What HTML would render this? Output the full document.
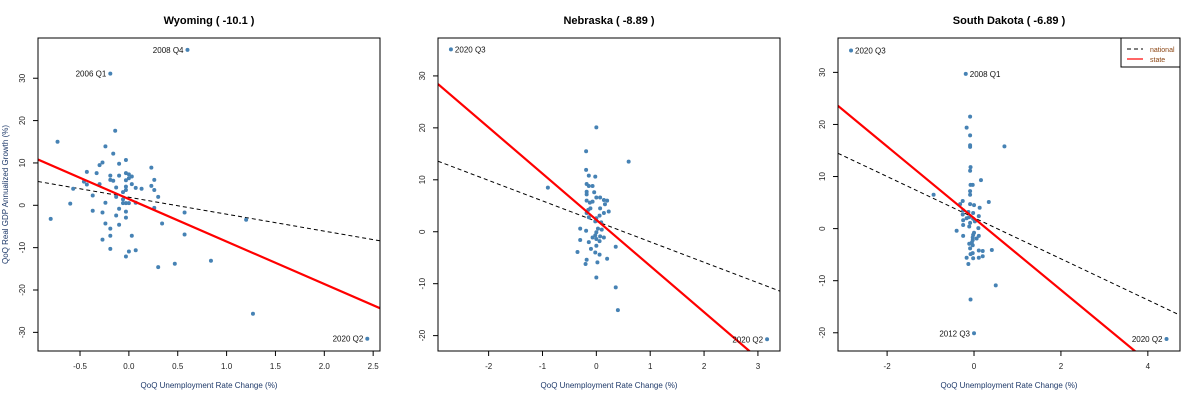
<!DOCTYPE html>
<html><head><meta charset="utf-8"><style>
body{margin:0;background:#fff;font-family:"Liberation Sans",Arial,sans-serif}
svg{display:block}
</style></head><body>
<svg id="chart" width="1200" height="400" xmlns="http://www.w3.org/2000/svg"></svg>
<script>
// Wyoming
const wyX=[0.60,-0.19,-0.73,-0.80,-0.60,-0.57,-0.46,-0.43,-0.43,-0.37,-0.37,-0.33,-0.30,-0.27,-0.30,-0.27,-0.27,-0.24,-0.24,-0.24,-0.19,-0.19,-0.19,-0.19,-0.19,-0.16,-0.16,-0.14,-0.13,-0.13,-0.13,-0.10,-0.10,-0.10,-0.10,-0.06,-0.06,-0.06,-0.03,-0.03,-0.03,-0.03,-0.03,-0.03,-0.03,-0.03,-0.03,0.0,0.0,0.0,0.0,0.03,0.03,0.03,0.07,0.07,0.07,0.13,0.23,0.23,0.26,0.26,0.26,0.30,0.30,0.34,0.47,0.57,0.57,0.84,1.20,1.27,2.44];
const wyY=[36.7,31.1,15,-3.2,0.4,3.9,5.6,7.9,4.9,2.3,-1.3,7.6,9.5,10.1,5.0,-1.7,-8.1,13.9,0.6,-4.3,7.0,6.0,-5.5,-7.2,-10.3,12.2,5.8,17.6,4.2,2.0,-2.4,9.8,7.0,-0.8,-4.6,3.1,1.4,0.5,10.7,7.6,5.9,4.4,3.6,0.5,-1.5,-2.9,-12.1,7.3,6.4,0.5,-10.9,6.8,5.0,-7.2,4.1,0.6,-10.6,3.9,8.9,4.6,6.0,3.6,-0.6,2.0,-14.6,-4.3,-13.8,-1.7,-6.9,-13.1,-3.4,-25.6,-31.5];
const wyLabels=[[0,"2008 Q4","l"],[1,"2006 Q1","l"],[72,"2020 Q2","l"]];
// Nebraska
const neX=[-2.70,-0.90,0,-0.19,-0.19,-0.14,-0.02,0.60,-0.18,-0.14,-0.07,-0.18,-0.18,-0.04,0.07,0,0.14,0.20,-0.18,-0.07,-0.12,0.16,0.07,-0.11,-0.15,-0.18,0.23,0.14,0.06,-0.14,0,-0.02,0.09,-0.30,0.03,0.10,-0.19,0,-0.02,-0.07,0,0.14,0.07,-0.30,-0.14,0.06,0,0.36,-0.10,-0.35,-0.02,0.06,0.20,-0.18,0.02,-0.20,0,0.36,0.40,3.17];
const neY=[35.1,8.5,20.1,15.5,11.9,10.8,10.6,13.5,9.2,8.8,8.8,7.7,7.2,7.6,6.6,6.6,6.1,6.0,6.0,5.8,5.6,5.3,4.5,4.5,4.2,3.6,3.9,3.6,3.1,2.8,2.6,2.0,1.8,0.6,0.6,0.4,0.2,-0.1,-0.7,-1.1,-1.4,-1.1,-0.9,-1.6,-2.0,-1.8,-2.7,-2.9,-3.3,-3.9,-4.0,-4.4,-5.2,-5.4,-5.9,-6.2,-8.8,-10.7,-15.1,-20.7];
const neLabels=[[0,"2020 Q3","r"],[59,"2020 Q2","l"]];
// South Dakota
const sdX=[-2.83,-0.19,-0.09,-0.17,-0.09,-0.09,-0.09,0.70,-0.08,-0.09,0.16,-0.08,-0.03,-0.09,-0.09,-0.93,0.34,-0.26,-0.32,-0.09,0,0.13,-0.25,-0.13,-0.02,-0.26,0.11,-0.11,-0.17,-0.02,-0.25,0.02,-0.09,-0.25,-0.11,0.10,-0.40,0,-0.02,0.11,-0.25,-0.03,0.06,-0.03,-0.05,-0.11,-0.03,-0.09,0.41,0.11,0.20,-0.03,-0.08,0.20,-0.17,0.11,-0.02,-0.13,0.50,-0.08,0,4.43];
const sdY=[34.2,29.7,21.5,19.4,17.9,16.0,15.7,15.8,11.8,11.1,9.3,8.4,8.4,7.2,6.5,6.5,5.1,5.3,4.7,4.7,4.5,4.0,3.5,3.2,3.0,2.7,2.4,2.2,2.0,1.9,1.6,1.4,1.1,0.7,0.4,0.1,-0.4,-0.8,-1.2,-1.4,-1.4,-1.7,-1.9,-2.2,-2.7,-2.9,-3.2,-3.8,-4.1,-4.2,-4.3,-4.7,-4.9,-5.3,-5.6,-5.6,-5.7,-6.8,-10.9,-13.6,-20.1,-21.2];
const sdLabels=[[0,"2020 Q3","r"],[1,"2008 Q1","r"],[60,"2012 Q3","l"],[61,"2020 Q2","l"]];

const titles=["Wyoming  ( -10.1 )","Nebraska  ( -8.89 )","South Dakota  ( -6.89 )"];
const xDomains=[[-0.93,2.57],[-2.94,3.41],[-3.13,4.74]];
const yDomains=[[-34.4,39.5],[-22.96,37.3],[-23.5,36.6]];
const xTicks=[[-0.5,0,0.5,1,1.5,2,2.5],[-2,-1,0,1,2,3],[-2,0,2,4]];
const xTickLabels=[["-0.5","0.0","0.5","1.0","1.5","2.0","2.5"],["-2","-1","0","1","2","3"],["-2","0","2","4"]];
const yTicks=[[-30,-20,-10,0,10,20,30],[-20,-10,0,10,20,30],[-20,-10,0,10,20,30]];
const stateSlope=[-10.03,-8.89,-6.89];
const stateIntercept=[1.47,2.3,2.0];
const natSlope=[-4.0,-3.94,-3.95];
const natIntercept=[1.9,2.0,2.1];

(function(){
const NS="http://www.w3.org/2000/svg";
const svg=document.getElementById("chart");
function mk(tag,attrs,parent){const e=document.createElementNS(NS,tag);for(const k in attrs)e.setAttribute(k,attrs[k]);(parent||svg).appendChild(e);return e;}
const panels=[[wyX,wyY,wyLabels],[neX,neY,neLabels],[sdX,sdY,sdLabels]];
const lefts=[38,438,838];
const pTop=38,pBottom=351,W=342;
panels.forEach((p,i)=>{
  const L=lefts[i];
  const [x0,x1]=xDomains[i],[y0,y1]=yDomains[i];
  const sx=v=>L+(v-x0)/(x1-x0)*W;
  const sy=v=>pBottom-(v-y0)/(y1-y0)*(pBottom-pTop);
  const g=mk("g",{});
  
  
  const t=mk("text",{x:L+W/2,y:24,"text-anchor":"middle","font-size":"11","font-weight":"bold",fill:"#000"},g);
  t.textContent=titles[i];
  
  
  const cp=mk("clipPath",{id:"cp"+i},g);
  mk("rect",{x:L,y:pTop,width:W,height:pBottom-pTop},cp);
  xTicks[i].forEach((v,j)=>{
    const x=sx(v);
    mk("line",{x1:x,x2:x,y1:pBottom,y2:pBottom+5,stroke:"#000","stroke-width":1},g);
    const tl=mk("text",{x:x,y:369,"text-anchor":"middle","font-size":"8",fill:"#222"},g);
    tl.textContent=xTickLabels[i][j];
    
    
  });
  yTicks[i].forEach(v=>{
    const y=sy(v);
    mk("line",{x1:L-5,x2:L,y1:y,y2:y,stroke:"#000","stroke-width":1},g);
    const tl=mk("text",{x:L-13,y:y,"text-anchor":"middle","font-size":"8",fill:"#222",transform:`rotate(-90 ${L-13} ${y})`},g);
    tl.textContent=String(v);
    
    
  });
  const xt=mk("text",{x:L+W/2,y:388,"text-anchor":"middle","font-size":"8",fill:"#1f3a6a"},g);
  xt.textContent="QoQ Unemployment Rate Change (%)";
  
  
  if(i===0){
    const yt=mk("text",{x:8,y:(pTop+pBottom)/2,"text-anchor":"middle","font-size":"8",fill:"#1f3a6a",transform:`rotate(-90 8 ${(pTop+pBottom)/2})`},g);
    yt.textContent="QoQ Real GDP Annualized Growth (%)";
    
    
  }
  const cg=mk("g",{"clip-path":`url(#cp${i})`},g);
  const nl=mk("line",{x1:sx(x0),y1:sy(natIntercept[i]+natSlope[i]*x0),x2:sx(x1),y2:sy(natIntercept[i]+natSlope[i]*x1),stroke:"#000","stroke-width":1,"stroke-dasharray":"4,3"},cg);
  
  
  p[0].forEach((xv,k)=>{
    const c=mk("circle",{cx:sx(xv),cy:sy(p[1][k]),r:2,fill:"#4682b4"},cg);
    
    
  });
  const sl=mk("line",{x1:sx(x0),y1:sy(stateIntercept[i]+stateSlope[i]*x0),x2:sx(x1),y2:sy(stateIntercept[i]+stateSlope[i]*x1),stroke:"#ff0000","stroke-width":2.2},cg);
  
  
  p[2].forEach(([k,txt,side])=>{
    const x=sx(p[0][k]),y=sy(p[1][k]);
    const lb=mk("text",{x:side==="l"?x-4:x+4,y:y+3,"text-anchor":side==="l"?"end":"start","font-size":"8",fill:"#111"},g);
    lb.textContent=txt;
    
    
  });
  const fr=mk("rect",{x:L,y:pTop,width:W,height:pBottom-pTop,fill:"none",stroke:"#000","stroke-width":1},g);
  
  
});
const lg=mk("g",{});


mk("rect",{x:1121,y:38,width:59,height:29,fill:"#fff",stroke:"#000","stroke-width":1},lg);
mk("line",{x1:1127,x2:1143,y1:49,y2:49,stroke:"#000","stroke-dasharray":"4,3"},lg);
mk("line",{x1:1127,x2:1143,y1:59,y2:59,stroke:"#ff0000","stroke-width":1.2},lg);
const l1=mk("text",{x:1150,y:52,"font-size":"7",fill:"#8b4513"},lg);l1.textContent="national";


const l2=mk("text",{x:1150,y:62,"font-size":"7",fill:"#8b4513"},lg);l2.textContent="state";


})();
</script>
</body></html>
